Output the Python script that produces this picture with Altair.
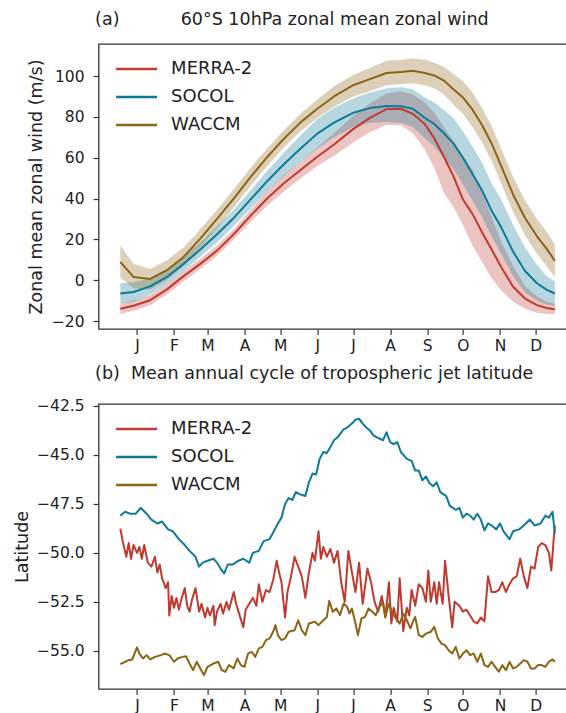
import altair as alt
import pandas as pd

FONT = "DejaVu Sans"
INK = "#222222"

SERIES = ["MERRA-2", "SOCOL", "WACCM"]
LINE_COLORS = ["#bf3a31", "#0f7a97", "#8b6414"]

# mid-month tick positions (day of year) and their labels
MONTH_DAYS = [15, 46, 74, 105, 135, 166, 196, 227, 258, 288, 319, 349]
MONTH_LETTERS = ["J", "F", "M", "A", "M", "J", "J", "A", "S", "O", "N", "D"]
DAY_DOMAIN = [-17.2, 383.2]

# ---------------------------------------------------------------------------
# (a) 60°S 10 hPa zonal-mean zonal wind: climatological mean and spread (m/s)
# ---------------------------------------------------------------------------
wind_days = [1, 12, 26, 40, 54, 68, 82, 96, 110, 124, 138, 152, 166, 180, 196,
             210, 224, 236, 246, 256, 264, 272, 280, 288, 296, 304, 312, 320,
             330, 340, 350, 358, 365]

merra_u = [-14, -12.5, -9.8, -4.5, 2, 8, 14.5, 22.5, 31.5, 40, 47.5, 54, 60.5,
           66.5, 74, 79.5, 83.8, 84, 81.5, 76.5, 69.5, 60.5, 51, 39.5, 32.5,
           23.5, 15, 6.5, -3.2, -9, -12.2, -13.6, -14.2]
merra_lo = [-16.5, -15, -12.3, -7, -0.5, 5.5, 12, 20, 28.5, 36.5, 43.5, 50, 56,
            61, 67.5, 72.5, 76, 76, 72, 64, 55, 43, 36, 27, 17, 9, 1, -5,
            -10.5, -14, -16, -16.5, -16.5]
merra_hi = [-11.5, -10, -7.3, -2, 4.5, 10.5, 17, 25, 34.5, 43.5, 51.5, 58, 65,
            72, 80.5, 86.5, 91.5, 92.5, 91, 87, 82, 75, 68, 61, 54, 43, 31, 19,
            7, -3, -8, -10.5, -11.5]

socol_u = [-6.5, -5.8, -3, 1.6, 8, 15, 22.5, 30.5, 39.5, 48.5, 56.8, 64.5,
           71.8, 77.2, 82, 84.3, 85.3, 85.2, 84, 79.5, 76.5, 72, 67, 60, 52, 44,
           34, 26, 14, 4.5, -1.5, -4.6, -6.5]
socol_lo = [-11.5, -10.5, -7, -2, 4.5, 11.5, 18.5, 26.5, 35, 43.5, 51, 58,
            64.5, 70, 75, 77, 77.5, 77, 75, 69.5, 65.5, 60, 54.5, 47, 39, 31,
            21.5, 13, 2, -6, -10, -12, -12.5]
socol_hi = [-1.5, -1, 1, 5.2, 11.5, 18.5, 26.5, 34.5, 44, 53.5, 62.5, 71, 79,
            84.5, 89, 92, 94, 94.5, 93.5, 89.5, 87, 83.5, 79.5, 73, 65.5, 57.5,
            47.5, 39.5, 27, 16, 7.5, 2, -0.5]

waccm_u = [9, 1.6, 0.6, 4.9, 11.4, 20.4, 30, 40, 50.5, 60.3, 69.3, 77.3, 84,
           90, 95.5, 98.5, 101.5, 102, 102.6, 101.5, 100.3, 97.8, 93.5, 89.5,
           83.5, 76, 67, 56, 42, 30.5, 21.5, 15.5, 9.5]
waccm_lo = [1.5, -4, -4.5, 0, 7, 16, 25.5, 35.5, 46, 56, 65, 73, 79.5, 85, 90,
            92.5, 95.5, 96, 96.5, 95.5, 94, 91, 86, 81.5, 75, 67.5, 58.5, 47.5,
            33.5, 22, 13, 7, 1.5]
waccm_hi = [17, 8, 5.5, 9.8, 16, 25, 34.5, 44.5, 55, 64.5, 73.5, 81.5, 88.5,
            95, 100.5, 104, 107.5, 108, 108.7, 108, 106.5, 104.5, 101, 97.5, 92,
            84.5, 75.5, 64.5, 50.5, 39, 30, 24, 17.5]

# ---------------------------------------------------------------------------
# (b) mean annual cycle of the tropospheric jet latitude (degrees)
# ---------------------------------------------------------------------------
merra_jet_days = [1, 3, 6, 8, 10, 12, 15, 17, 19, 21, 24, 27, 30, 32, 34, 36,
                  39, 41, 42, 44, 46, 48, 50, 52, 55, 57, 59, 61, 64, 67, 69,
                  72, 74, 76, 79, 80, 82, 85, 87, 90, 92, 96, 98, 100, 102, 104,
                  106, 109, 112, 115, 117, 120, 123, 126, 129, 132, 134, 136,
                  139, 141, 144, 147, 150, 153, 156, 159, 162, 164, 167, 169,
                  171, 174, 177, 180, 183, 186, 189, 192, 195, 198, 201, 204,
                  208, 211, 214, 217, 220, 223, 226, 228, 230, 233, 235, 238,
                  241, 243, 245, 248, 251, 254, 257, 259, 261, 264, 266, 268,
                  271, 273, 276, 279, 281, 285, 288, 291, 294, 297, 300, 303,
                  306, 309, 312, 315, 318, 321, 324, 327, 330, 333, 336, 339,
                  342, 345, 348, 351, 354, 357, 360, 362, 364, 365]
merra_jet = [-48.76, -49.4, -50.2, -49.5, -50.3, -49.6, -50.0, -49.7, -50.3,
             -49.6, -50.5, -50.7, -50.2, -51.0, -50.6, -51.3, -51.8, -51.5,
             -53.2, -52.2, -52.8, -52.3, -52.9, -52.4, -51.8, -52.7, -53.0,
             -52.4, -51.8, -53.0, -52.6, -53.3, -52.8, -53.2, -52.7, -53.7,
             -53.0, -52.6, -53.1, -52.5, -52.9, -52.0, -52.6, -53.0, -53.4,
             -53.8, -52.9, -52.6, -52.3, -52.7, -51.6, -52.5, -51.9, -52.0,
             -51.4, -50.4, -51.0, -51.5, -53.3, -52.0, -51.2, -50.2, -50.7,
             -51.2, -52.3, -51.0, -50.0, -50.4, -48.9, -50.3, -49.7, -50.2,
             -49.8, -50.5, -49.9, -51.5, -52.5, -49.9, -51.0, -52.0, -50.5,
             -52.6, -50.8, -51.5, -52.5, -53.0, -52.2, -53.3, -51.5, -53.6,
             -52.8, -53.5, -51.3, -54.0, -52.8, -53.2, -51.9, -52.7, -51.6,
             -51.8, -52.5, -50.9, -52.5, -51.5, -52.6, -51.5, -52.6, -50.4,
             -52.2, -53.8, -52.5, -52.7, -53.0, -52.9, -53.2, -53.5, -53.6,
             -53.3, -53.5, -51.2, -52.0, -52.0, -51.9, -51.5, -52.0, -51.6,
             -51.3, -51.2, -50.3, -51.2, -51.8, -50.7, -50.8, -49.7, -49.5,
             -49.6, -50.0, -50.9, -49.3, -48.6]

socol_jet_days = [1, 5, 9, 14, 18, 23, 27, 32, 36, 41, 45, 50, 55, 59, 64, 67,
                  70, 74, 79, 82, 86, 88, 91, 95, 100, 104, 109, 112, 117, 121,
                  126, 130, 133, 136, 139, 142, 145, 148, 151, 156, 159, 162,
                  165, 168, 171, 174, 177, 180, 183, 188, 191, 195, 198, 201,
                  204, 207, 210, 213, 216, 221, 224, 227, 230, 233, 236, 241,
                  245, 248, 251, 254, 257, 260, 263, 266, 269, 274, 277, 282,
                  285, 288, 291, 294, 297, 300, 303, 306, 309, 312, 316, 319,
                  322, 327, 330, 335, 339, 344, 348, 353, 357, 360, 363, 365]
socol_jet = [-48.1, -47.9, -48.0, -48.0, -47.7, -48.0, -48.3, -48.5, -48.4,
             -48.8, -48.9, -49.3, -49.6, -49.9, -50.2, -50.7, -50.5, -50.4,
             -50.3, -50.5, -50.9, -51.05, -50.6, -50.6, -50.4, -50.3, -50.5,
             -50.0, -49.9, -49.4, -49.3, -48.85, -48.5, -48.2, -47.5, -47.2,
             -47.3, -46.9, -47.0, -47.1, -46.4, -45.95, -46.0, -45.2, -44.85,
             -44.9, -44.6, -44.25, -44.1, -43.7, -43.6, -43.4, -43.2, -43.15,
             -43.4, -43.6, -43.75, -44.0, -44.1, -44.25, -43.85, -44.35, -44.45,
             -44.35, -44.85, -45.2, -45.3, -45.8, -45.8, -46.3, -46.1, -46.45,
             -46.6, -46.4, -46.9, -47.1, -47.6, -47.8, -47.7, -48.2, -48.0,
             -48.1, -48.3, -48.0, -48.3, -48.85, -48.5, -48.6, -48.8, -48.5,
             -48.9, -49.3, -48.9, -48.8, -48.6, -48.3, -48.6, -48.5, -48.1,
             -48.2, -47.9, -49.0]

waccm_jet_days = [1, 5, 8, 11, 15, 17, 20, 23, 26, 30, 35, 38, 42, 46, 49, 53,
                  56, 59, 62, 65, 68, 71, 74, 79, 83, 86, 89, 92, 96, 99, 102,
                  105, 108, 111, 114, 117, 120, 123, 126, 129, 131, 133, 136,
                  139, 142, 147, 150, 153, 156, 159, 164, 167, 171, 174, 176,
                  179, 182, 185, 188, 191, 193, 195, 198, 200, 203, 206, 209,
                  212, 215, 218, 221, 223, 226, 229, 232, 235, 238, 241, 244,
                  246, 248, 251, 254, 257, 261, 264, 267, 270, 273, 276, 279,
                  282, 285, 288, 291, 294, 297, 300, 303, 306, 309, 312, 315,
                  318, 321, 324, 327, 330, 333, 336, 339, 342, 345, 348, 351,
                  354, 357, 360, 363, 365]
waccm_jet = [-55.68, -55.56, -55.48, -55.44, -54.83, -55.14, -55.39, -55.22,
             -55.44, -55.31, -55.22, -55.14, -55.22, -55.56, -55.39, -55.31,
             -55.28, -55.65, -55.99, -55.56, -55.90, -56.24, -55.82, -55.65,
             -55.56, -55.99, -56.07, -55.73, -55.90, -55.39, -55.73, -55.82,
             -55.14, -55.05, -55.31, -54.88, -54.80, -54.46, -54.37, -54.03,
             -53.69, -54.20, -54.46, -54.37, -54.03, -53.95, -53.44, -53.95,
             -54.20, -53.61, -53.52, -53.69, -53.44, -53.27, -52.45, -53.01,
             -52.84, -53.18, -52.59, -52.76, -53.10, -52.84, -53.61, -54.20,
             -53.35, -53.27, -52.84, -53.01, -53.18, -52.76, -52.50, -53.27,
             -52.59, -53.10, -53.35, -53.61, -53.10, -53.44, -53.86, -53.52,
             -53.27, -54.20, -54.29, -54.12, -54.03, -53.78, -54.37, -54.63,
             -54.71, -54.97, -55.14, -54.80, -55.39, -55.14, -54.97, -55.22,
             -55.14, -55.56, -55.14, -55.73, -55.82, -55.56, -55.82, -56.07,
             -55.73, -55.99, -55.56, -55.90, -55.82, -55.65, -55.48, -55.56,
             -55.90, -55.90, -55.73, -55.73, -55.82, -55.56, -55.44, -55.56]

# ---------------------------------------------------------------------------
# tidy tables
# ---------------------------------------------------------------------------
wind_rows = []
for name, u, lo, hi in zip(SERIES, [merra_u, socol_u, waccm_u],
                           [merra_lo, socol_lo, waccm_lo],
                           [merra_hi, socol_hi, waccm_hi]):
    assert len(u) == len(lo) == len(hi) == len(wind_days)
    for d, m, a, b in zip(wind_days, u, lo, hi):
        wind_rows.append({"series": name, "day": d, "u": m, "lo": a, "hi": b})
wind_df = pd.DataFrame(wind_rows)

jet_rows = []
for name, days, lat in zip(SERIES,
                           [merra_jet_days, socol_jet_days, waccm_jet_days],
                           [merra_jet, socol_jet, waccm_jet]):
    assert len(days) == len(lat)
    for d, v in zip(days, lat):
        jet_rows.append({"series": name, "day": d, "lat": v})
jet_df = pd.DataFrame(jet_rows)

# ---------------------------------------------------------------------------
# shared pieces
# ---------------------------------------------------------------------------
month_expr = ("[" + ",".join(f"'{m}'" for m in MONTH_LETTERS) + "][indexof(["
              + ",".join(str(d) for d in MONTH_DAYS) + "], datum.value)]")

x_scale = alt.Scale(domain=DAY_DOMAIN, nice=False, zero=False)
x_axis = alt.Axis(values=MONTH_DAYS, labelExpr=month_expr, title=None,
                  labelAngle=0, labelPadding=4)


def series_legend():
    return alt.Legend(title=None, orient="none", legendX=16, legendY=11,
                      symbolType="stroke", symbolSize=1681,
                      symbolStrokeWidth=2.5, clipHeight=28, rowPadding=0,
                      labelOffset=12.5, labelFontSize=18, labelFont=FONT,
                      labelColor=INK, padding=0, labelLimit=200)


def panel_title(text):
    return alt.TitleParams(text, anchor="start", frame="group", offset=16,
                           dx=-3.5)


color_scale = alt.Scale(domain=SERIES, range=LINE_COLORS)

PLOT_W = 478
PLOT_H = 285
GAP = 75

# ---------------------------------------------------------------------------
# panel (a)
# ---------------------------------------------------------------------------
wind_y = alt.Scale(domain=[-23.9, 115.7], nice=False, zero=False)
wind_base = alt.Chart(wind_df)
wind_band = wind_base.mark_area(opacity=0.3).encode(
    x=alt.X("day:Q", scale=x_scale, axis=x_axis),
    y=alt.Y("lo:Q", scale=wind_y,
            axis=alt.Axis(values=[-20, 0, 20, 40, 60, 80, 100],
                          title="Zonal mean zonal wind (m/s)",
                          labelPadding=9, titlePadding=5.5)),
    y2="hi:Q",
    fill=alt.Fill("series:N", scale=color_scale, legend=None),
)
wind_line = wind_base.mark_line(strokeWidth=2, strokeJoin="round").encode(
    x=alt.X("day:Q", scale=x_scale),
    y=alt.Y("u:Q", scale=wind_y),
    color=alt.Color("series:N", scale=color_scale, legend=series_legend()),
)
panel_a = alt.layer(wind_band, wind_line).properties(
    width=PLOT_W, height=PLOT_H,
    title=panel_title("(a)" + "\u00a0" * 11 + "60°S 10hPa zonal mean zonal wind"),
)

# ---------------------------------------------------------------------------
# panel (b)
# ---------------------------------------------------------------------------
jet_y = alt.Scale(domain=[-56.95, -42.4], nice=False, zero=False)
panel_b = alt.Chart(jet_df).mark_line(strokeWidth=2, strokeJoin="round").encode(
    x=alt.X("day:Q", scale=x_scale, axis=x_axis),
    y=alt.Y("lat:Q", scale=jet_y,
            axis=alt.Axis(values=[-55, -52.5, -50, -47.5, -45, -42.5],
                          format=".1f", title="Latitude",
                          labelPadding=9, titlePadding=5.5)),
    color=alt.Color("series:N", scale=color_scale, legend=series_legend()),
).properties(
    width=PLOT_W, height=PLOT_H,
    title=panel_title("(b)" + "\u00a0" * 2 + "Mean annual cycle of tropospheric jet latitude"),
)

# fixed 566 x 713 canvas: plot areas start at (98.6, 44); the right edge of
# the frames and the lower month letters run past the canvas edge
LEFT, TOP = 98.6, 44
chart = (
    alt.vconcat(panel_a, panel_b, spacing=GAP, bounds="flush")
    .resolve_legend(color="independent")
    .properties(autosize=alt.AutoSizeParams(type="none"),
                padding={"left": LEFT, "top": TOP,
                         "right": 566 - LEFT - PLOT_W,
                         "bottom": 713 - TOP})
    .configure(font=FONT)
    .configure_view(stroke="#333333", strokeWidth=1.3)
    .configure_axis(labelFont=FONT, labelFontSize=15.5, labelColor=INK,
                    titleFont=FONT, titleFontSize=17.5, titleFontWeight="normal",
                    titleColor=INK, tickColor="#333333", tickSize=5.5,
                    tickWidth=1.2, domain=False, grid=False)
    .configure_title(font=FONT, fontSize=17.5, fontWeight="normal", color=INK)
)

chart.save("out.html", embed_options={"renderer": "svg", "actions": False})
